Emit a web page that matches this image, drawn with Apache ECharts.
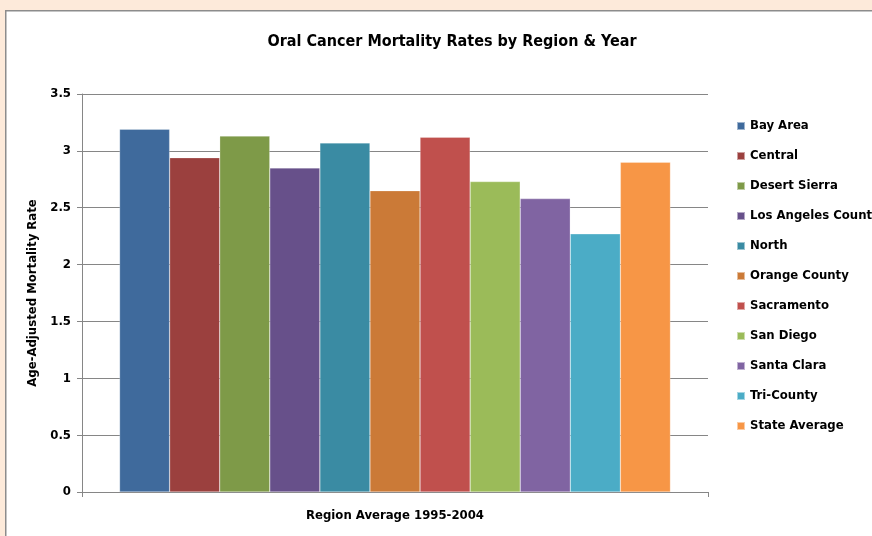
<!DOCTYPE html>
<html><head><meta charset="utf-8">
<script src="https://cdn.jsdelivr.net/npm/echarts@6/dist/echarts.min.js"></script>
<style>html,body{margin:0;padding:0;background:#FDEADA;}#c{width:872px;height:536px;}</style>
</head><body><div id="c"></div>
<script>
const categories = ['Region Average 1995-2004'];
const seriesNames = ['Bay Area','Central','Desert Sierra','Los Angeles County','North','Orange County','Sacramento','San Diego','Santa Clara','Tri-County','State Average'];
const seriesValues = [3.19, 2.94, 3.13, 2.85, 3.07, 2.65, 3.12, 2.73, 2.58, 2.27, 2.90];
const seriesColors = ['#3F6A9C','#9B403E','#7E9A48','#67508A','#3A8BA3','#CB7A37','#C0504D','#9BBB59','#8064A2','#4BACC6','#F79646'];
const yTicks = { min: 0, max: 3.5, interval: 0.5 };

const FONT = '"Liberation Sans Narrow","DejaVu Sans Condensed","Liberation Sans",sans-serif';
const chart = echarts.init(document.getElementById('c'));
chart.setOption({
  backgroundColor: '#FDEADA',
  animation: false,
  graphic: [{
    type: 'rect', left: 5, top: 10, z: -10,
    shape: { width: 900, height: 600 },
    style: { fill: '#ffffff', stroke: '#8c8c8c', lineWidth: 1.5 }
  }],
  title: {
    text: 'Oral Cancer Mortality Rates by Region & Year',
    left: 447, top: 29, textAlign: 'center',
    textStyle: { fontFamily: FONT, fontWeight: 'bold', fontSize: 16, color: '#000' }
  },
  legend: {
    orient: 'vertical', left: 731, top: 114,
    itemWidth: 8, itemHeight: 8, itemGap: 16,
    icon: 'rect',
    textStyle: { fontFamily: FONT, fontWeight: 'bold', fontSize: 13, color: '#000', lineHeight: 14 },
    data: seriesNames
  },
  grid: { left: 82, right: 164, top: 94, bottom: 44 },
  xAxis: {
    type: 'category', data: categories,
    axisLine: { lineStyle: { color: '#868686', width: 1 } },
    axisTick: { show: true, alignWithLabel: false, length: 5, lineStyle: { color: '#868686' } },
    axisLabel: { margin: 17, fontFamily: FONT, fontWeight: 'bold', fontSize: 13, color: '#000' }
  },
  yAxis: {
    type: 'value', min: yTicks.min, max: yTicks.max, interval: yTicks.interval,
    name: 'Age-Adjusted Mortality Rate', nameLocation: 'middle', nameGap: 42,
    nameTextStyle: { fontFamily: FONT, fontWeight: 'bold', fontSize: 13, color: '#000' },
    axisLine: { show: true, lineStyle: { color: '#868686', width: 1 } },
    axisTick: { show: true, length: 5, lineStyle: { color: '#868686' } },
    axisLabel: { margin: 11, fontFamily: FONT, fontWeight: 'bold', fontSize: 13, color: '#000',
      formatter: v => String(v) },
    splitLine: { show: true, lineStyle: { color: '#868686', width: 1 } }
  },
  series: seriesNames.map((n, i) => ({
    name: n, type: 'bar', data: [seriesValues[i]],
    barGap: '0%', barCategoryGap: '12%',
    itemStyle: { color: seriesColors[i], borderColor: 'rgba(255,255,255,0.5)', borderWidth: 0.5 }
  }))
});
</script></body></html>
